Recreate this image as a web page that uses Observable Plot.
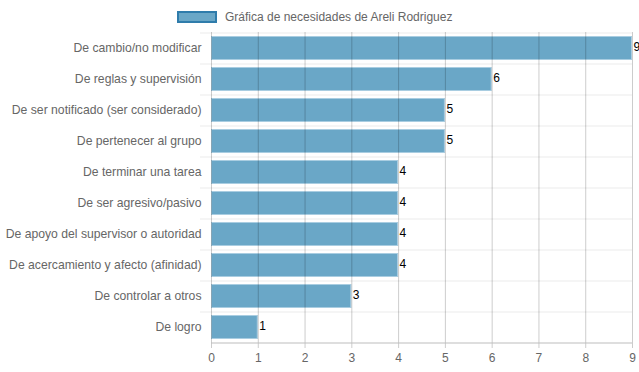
<!DOCTYPE html>
<html>
<head>
<meta charset="utf-8">
<script src="https://cdn.jsdelivr.net/npm/d3@7"></script>
<script src="https://cdn.jsdelivr.net/npm/@observablehq/plot@0.6"></script>
<style>
  body { margin: 0; background: #fff; }
  #wrap { position: relative; width: 639px; height: 372px; font-family: "Helvetica Neue", "Liberation Sans", Arial, sans-serif; }
  #chart svg { display: block; }
  #legend { position: absolute; left: 177px; top: 10px; display: flex; align-items: center; font-size: 12px; color: #666; }
  #legend .box { width: 40px; height: 12px; box-sizing: border-box; background: #6aa7c7; border: 2px solid #2f7cab; margin-right: 8px; }
</style>
</head>
<body>
<div id="wrap">
  <div id="chart"></div>
  <div id="legend"><div class="box"></div><span id="legendText"></span></div>
</div>
<script>
const seriesName = "Gráfica de necesidades de Areli Rodriguez";
const categories = [
  "De cambio/no modificar",
  "De reglas y supervisión",
  "De ser notificado (ser considerado)",
  "De pertenecer al grupo",
  "De terminar una tarea",
  "De ser agresivo/pasivo",
  "De apoyo del supervisor o autoridad",
  "De acercamiento y afecto (afinidad)",
  "De controlar a otros",
  "De logro"
];
const values = [9, 6, 5, 5, 4, 4, 4, 4, 3, 1];
const xTicks = [0, 1, 2, 3, 4, 5, 6, 7, 8, 9];

document.getElementById("legendText").textContent = seriesName;

const data = categories.map((c, i) => ({category: c, value: values[i]}));

const chart = Plot.plot({
  width: 639,
  height: 372,
  marginLeft: 211,
  marginRight: 7,
  marginTop: 32,
  marginBottom: 30,
  style: {fontFamily: "'Helvetica Neue', 'Liberation Sans', Arial, sans-serif", fontSize: "12px", color: "#666", background: "#fff"},
  x: {domain: [0, 9], ticks: xTicks, label: null},
  y: {domain: categories, paddingInner: 0.24, paddingOuter: 0.12, label: null},
  marks: [
    Plot.ruleY(categories, {y: d => d, dy: -15.5, x1: -0.235, x2: 9, stroke: "#ebebeb", strokeWidth: 1}),
    Plot.barX(data, {y: "category", x: "value", fill: "#6aa7c7", stroke: "#a9cde1", strokeWidth: 1, inset: 0.5}),
    Plot.ruleX(xTicks, {stroke: "#000", strokeOpacity: 0.2, insetBottom: -6}),
    Plot.ruleY([categories[categories.length - 1]], {y: d => d, dy: 15.5, x1: 0, x2: 9, stroke: "#bdbdbd"}),
    Plot.text(data, {y: "category", x: "value", text: d => String(d.value), textAnchor: "start", dx: 1, dy: -1, fill: "#000", fontSize: 12}),
    Plot.axisX({ticks: xTicks, tickSize: 0, tickPadding: 11, fontSize: 12, fill: "#666", label: null}),
    Plot.axisY({tickSize: 0, tickPadding: 10, fontSize: 12.2, fill: "#666", label: null})
  ]
});
document.getElementById("chart").appendChild(chart);
</script>
</body>
</html>
